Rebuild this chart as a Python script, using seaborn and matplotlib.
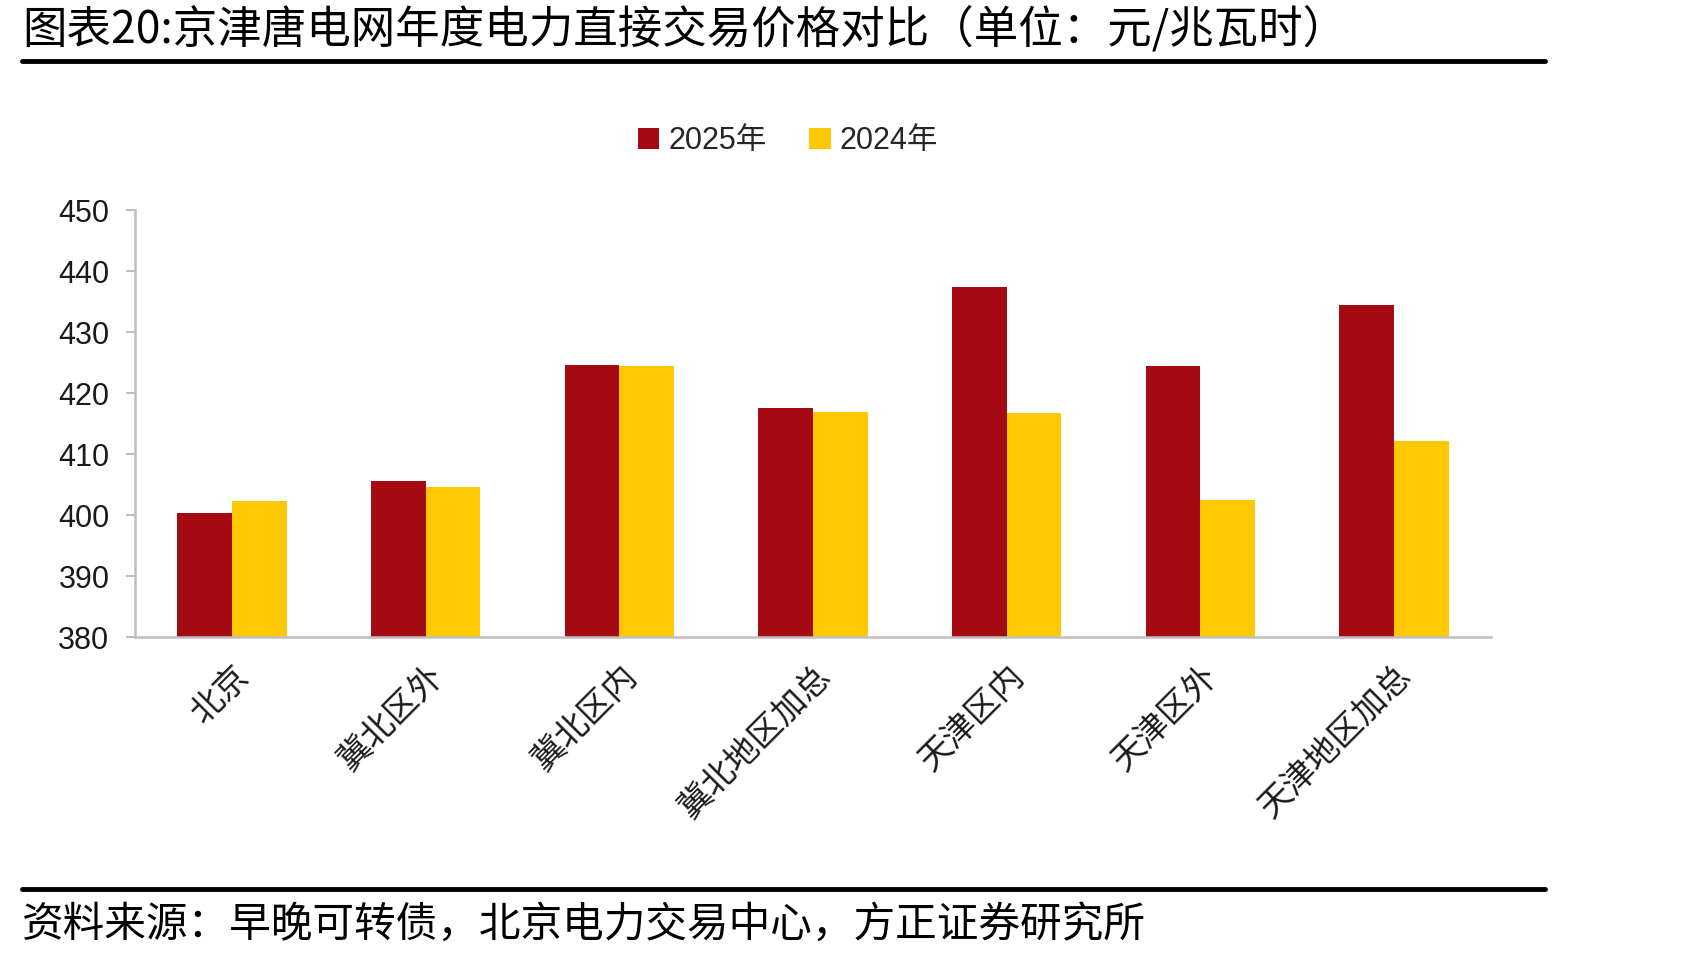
import pandas as pd
import seaborn as sns
import matplotlib.pyplot as plt

regions = ['北京', '冀北区外', '冀北区内', '冀北地区加总', '天津区内', '天津区外', '天津地区加总']
price_2025 = [400.4, 405.6, 424.7, 417.6, 437.5, 424.5, 434.4]
price_2024 = [402.3, 404.7, 424.5, 417.0, 416.7, 402.6, 412.2]
years = ['2025年', '2024年']
colors = ['#A50A12', '#FFC800']


def main():
    df = pd.DataFrame({'region': regions, '2025年': price_2025, '2024年': price_2024})
    df = df.melt(id_vars='region', var_name='year', value_name='price')

    sns.set_theme(style='white')
    plt.rcParams['font.family'] = ['Noto Sans CJK SC', 'DejaVu Sans']

    fig = plt.figure(figsize=(16.82, 9.6), dpi=100)
    ax = fig.add_axes([0.0803, 0.336, 0.806, 0.445])

    sns.barplot(data=df, x='region', y='price', hue='year', hue_order=years,
                palette=colors, width=0.565, saturation=1, linewidth=0, ax=ax, legend=True)

    ax.set_ylim(380, 450)
    ax.set_yticks(range(380, 451, 10))
    ax.set_xlim(-0.5, 6.5)
    ax.set_xlabel('')
    ax.set_ylabel('')
    for lbl in ax.get_yticklabels():
        lbl.set_fontfamily(['Liberation Sans', 'DejaVu Sans'])
        lbl.set_fontsize(22)
        lbl.set_color('#1a1a1a')
    ax.tick_params(axis='y', left=True, length=6.5, width=1.5, color='#BFBFBF', pad=12)
    ax.tick_params(axis='x', bottom=False, pad=9)
    ax.set_xticks(range(len(regions)))
    ax.set_xticklabels(regions, rotation=45, ha='right', rotation_mode='anchor',
                       fontsize=24, color='#1a1a1a')

    for side in ['top', 'right']:
        ax.spines[side].set_visible(False)
    for side in ['left', 'bottom']:
        ax.spines[side].set_color('#BFBFBF')
        ax.spines[side].set_linewidth(1.8)

    handles, labels = ax.get_legend_handles_labels()
    ax.legend(handles, labels, loc='center', bbox_to_anchor=(788 / 1682, 1 - 141 / 960),
              bbox_transform=fig.transFigure, ncol=2, frameon=False,
              handlelength=0.7, handleheight=0.7, handletextpad=0.3, columnspacing=1.4,
              prop={'family': ['Liberation Sans', 'Noto Sans CJK SC'], 'size': 22})

    fig.text(0.013, 1 - 29 / 960, '图表20:京津唐电网年度电力直接交易价格对比（单位：元/兆瓦时）',
             fontsize=32, va='center', ha='left', color='black')
    fig.add_artist(plt.Line2D([22 / 1682, 1545 / 1682], [1 - 61 / 960, 1 - 61 / 960],
                              color='black', linewidth=3.5))
    fig.add_artist(plt.Line2D([22 / 1682, 1545 / 1682], [1 - 889 / 960, 1 - 889 / 960],
                              color='black', linewidth=3.5))
    fig.text(0.013, 1 - 925 / 960, '资料来源：早晚可转债，北京电力交易中心，方正证券研究所',
             fontsize=30, va='center', ha='left', color='black')

    fig.savefig('out.png', dpi=100, facecolor='white')


if __name__ == '__main__':
    main()
